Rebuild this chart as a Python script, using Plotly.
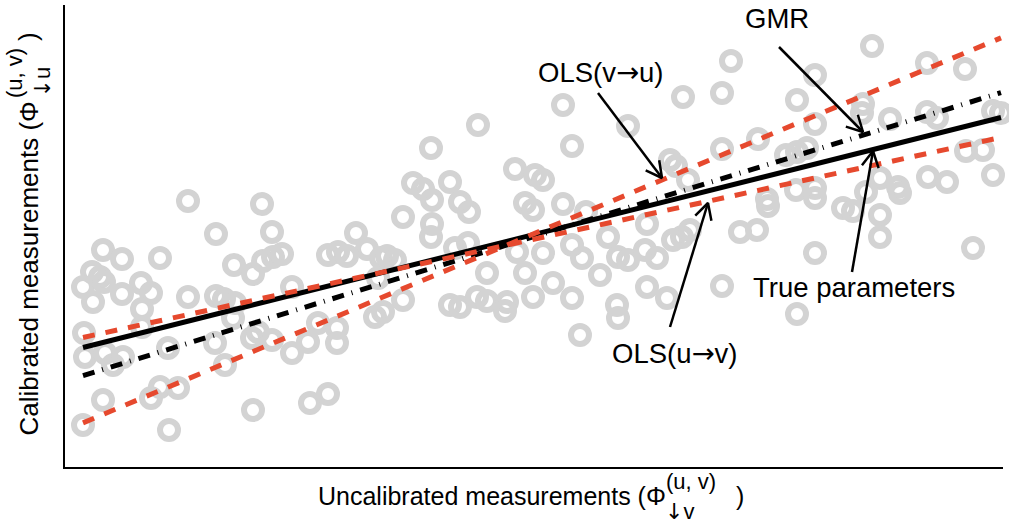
import math
import plotly.graph_objects as go

# ---- data (uncalibrated u, calibrated v), arbitrary units ----
u_vals = [123, 197, 151, 207, 38, 57, 95, 291, 302, 316, 263, 273, 282, 169, 188, 198, 208, 217,
          27, 35, 18, 39, 76, 86, 57, 77, 28, 123, 151, 159, 170, 227, 313, 310, 19, 77, 168, 187,
          207, 193, 253, 272, 243, 272, 227, 20, 40, 48, 58, 103, 150, 160, 38, 86, 95, 113, 18,
          104, 188, 245, 263,
          366, 507, 498, 413, 450, 470, 478, 348, 358, 385, 367, 395, 404, 338, 460, 468, 498,
          367, 366, 390, 403, 452, 478, 507, 517, 521, 543, 535, 553, 563, 580, 592, 582, 608,
          617, 625, 605, 611, 623, 460, 488, 507, 422, 385, 395, 412, 422, 442, 440, 468, 582,
          602, 552, 553, 515, 338, 318, 322, 330, 563, 618,
          666, 807, 862, 900, 750, 657, 732, 798, 797, 825, 862, 872, 928, 936, 750, 693, 657,
          721, 732, 742, 815, 833, 835, 863, 882, 901, 918, 928, 702, 703, 731, 750, 750, 778,
          788, 815, 815, 675, 692, 750, 908, 657, 732, 801]
v_vals = [266, 263, 233, 235, 217, 208, 209, 234, 218, 209, 212, 215, 211, 202, 193, 206, 210, 213,
          195, 190, 180, 185, 184, 174, 173, 158, 165, 170, 171, 168, 164, 180, 189, 150, 134, 140,
          149, 129, 127, 135, 144, 139, 125, 124, 114, 110, 114, 102, 110, 119, 124, 102, 67, 69,
          80, 79, 42, 37, 57, 64, 73,
          319, 321, 362, 342, 298, 292, 287, 284, 278, 285, 267, 265, 255, 250, 264, 257, 263,
          243, 230, 219, 224, 215, 214, 222, 209, 255, 230, 192, 210, 207, 217, 209, 243, 227,
          230, 237, 307, 301, 287, 194, 184, 169, 194, 162, 160, 170, 166, 165, 156, 170, 180,
          169, 162, 149, 132, 167, 155, 211, 207, 341, 370,
          406, 421, 404, 398, 392, 374, 367, 363, 354, 348, 355, 349, 356, 354, 343, 328, 318,
          312, 315, 319, 289, 280, 274, 290, 285, 316, 317, 292, 268, 261, 277, 279, 269, 259,
          256, 252, 230, 235, 237, 214, 219, 181, 153, 275]

# ---- regression lines (intercept, slope) ----
line_names = ["True parameters", "GMR", "OLS(v→u)", "OLS(u→v)"]
line_intercepts = [115.0, 85.8, 36.6, 125.6]
line_slopes = [0.2505, 0.3083, 0.4194, 0.2179]

# ---- labels and arrows ----
ARR = "<span style=\"font-family:'DejaVu Sans'\">→</span>"
DARR = "<span style=\"font-family:'DejaVu Sans'\">↓</span>"
label_texts = ["GMR", "OLS(v" + ARR + "u)", "True parameters", "OLS(u" + ARR + "v)"]
label_x = [712, 535, 789, 609]
label_y = [449, 395, 180, 114]
arrow_tail_x = [714, 533, 787, 605]
arrow_tail_y = [420, 374, 195, 140]
arrow_tip_x = [798, 597, 808, 643]
arrow_tip_y = [335, 289, 316, 264]

X_RANGE = [0, 938]
Y_RANGE = [0, 462]

RED = "#e6492e"
GREY = "#d3d3d3"
FONT = "Liberation Sans, Arial, Helvetica, DejaVu Sans, sans-serif"

line_styles = {
    "True parameters": dict(color="black", width=5, dash="solid"),
    "GMR": dict(color="black", width=5, dash="12px,8px,1px,8px"),
    "OLS(v→u)": dict(color=RED, width=5, dash="12px,11px"),
    "OLS(u→v)": dict(color=RED, width=5, dash="12px,11px"),
}

fig = go.Figure()

fig.add_trace(go.Scatter(
    x=u_vals, y=v_vals, mode="markers",
    marker=dict(symbol="circle-open", size=18, color=GREY, line=dict(width=6, color=GREY)),
    cliponaxis=False, hoverinfo="skip", showlegend=False))

xmin, xmax = min(u_vals), max(u_vals)
for name, a, b in zip(line_names, line_intercepts, line_slopes):
    fig.add_trace(go.Scatter(
        x=[xmin, xmax], y=[a + b * xmin, a + b * xmax], mode="lines",
        line=line_styles[name], showlegend=False, hoverinfo="skip"))

# arrows: shaft + open V head
HEAD_LEN = 18
HEAD_ANG = math.radians(28)
for tx, ty, hx, hy in zip(arrow_tail_x, arrow_tail_y, arrow_tip_x, arrow_tip_y):
    dx, dy = hx - tx, hy - ty
    L = math.hypot(dx, dy)
    ux, uy = dx / L, dy / L
    wings = []
    for s in (1, -1):
        ca, sa = math.cos(s * HEAD_ANG), math.sin(s * HEAD_ANG)
        rx = ux * ca - uy * sa
        ry = ux * sa + uy * ca
        wings.append((hx - HEAD_LEN * rx, hy - HEAD_LEN * ry))
    fig.add_trace(go.Scatter(x=[tx, hx], y=[ty, hy], mode="lines",
                             line=dict(color="black", width=2.5), showlegend=False, hoverinfo="skip"))
    fig.add_trace(go.Scatter(x=[wings[0][0], hx, wings[1][0]], y=[wings[0][1], hy, wings[1][1]],
                             mode="lines", line=dict(color="black", width=2.5),
                             showlegend=False, hoverinfo="skip"))

annotations = []
for t, x, y in zip(label_texts, label_x, label_y):
    annotations.append(dict(text=t, x=x, y=y, xref="x", yref="y", showarrow=False,
                            font=dict(size=27.5, color="black", family=FONT)))

W, H = 1009, 529
ML, MR, MT, MB = 65, 6, 5, 62
PW, PH = W - ML - MR, H - MT - MB


def px(xpix):
    return (xpix - ML) / PW


def py(ypix):
    return (H - MB - ypix) / PH


tf = dict(color="black", family=FONT)
# x axis title with stacked super/subscript
annotations += [
    dict(text="Uncalibrated measurements (Φ", x=px(668), y=py(496), xref="paper", yref="paper",
         xanchor="right", yanchor="middle", showarrow=False, font=dict(size=25, **tf)),
    dict(text="(u, v)", x=px(664), y=py(481), xref="paper", yref="paper",
         xanchor="left", yanchor="middle", showarrow=False, font=dict(size=22, **tf)),
    dict(text=DARR + "v", x=px(663), y=py(511), xref="paper", yref="paper",
         xanchor="left", yanchor="middle", showarrow=False, font=dict(size=22, **tf)),
    dict(text=")", x=px(734), y=py(496), xref="paper", yref="paper",
         xanchor="left", yanchor="middle", showarrow=False, font=dict(size=25, **tf)),
]
# y axis title (rotated)
annotations += [
    dict(text="Calibrated measurements (Φ", x=px(28.5), y=py(100), xref="paper", yref="paper",
         xanchor="center", yanchor="top", textangle=-90, showarrow=False, font=dict(size=26, **tf)),
    dict(text="(u, v)", x=px(15), y=py(100), xref="paper", yref="paper",
         xanchor="center", yanchor="bottom", textangle=-90, showarrow=False, font=dict(size=22, **tf)),
    dict(text=DARR + "u", x=px(42), y=py(100), xref="paper", yref="paper",
         xanchor="center", yanchor="bottom", textangle=-90, showarrow=False, font=dict(size=22, **tf)),
    dict(text=")", x=px(28.5), y=py(43), xref="paper", yref="paper",
         xanchor="center", yanchor="bottom", textangle=-90, showarrow=False, font=dict(size=26, **tf)),
]

axis_common = dict(showgrid=False, zeroline=False, showticklabels=False, ticks="",
                   showline=True, linecolor="black", linewidth=2, fixedrange=True)
fig.update_layout(
    width=W, height=H, autosize=False,
    margin=dict(l=ML, r=MR, t=MT, b=MB),
    paper_bgcolor="white", plot_bgcolor="white",
    xaxis=dict(range=X_RANGE, **axis_common),
    yaxis=dict(range=Y_RANGE, **axis_common),
    annotations=annotations,
    showlegend=False,
)

fig.write_html("out.html")
